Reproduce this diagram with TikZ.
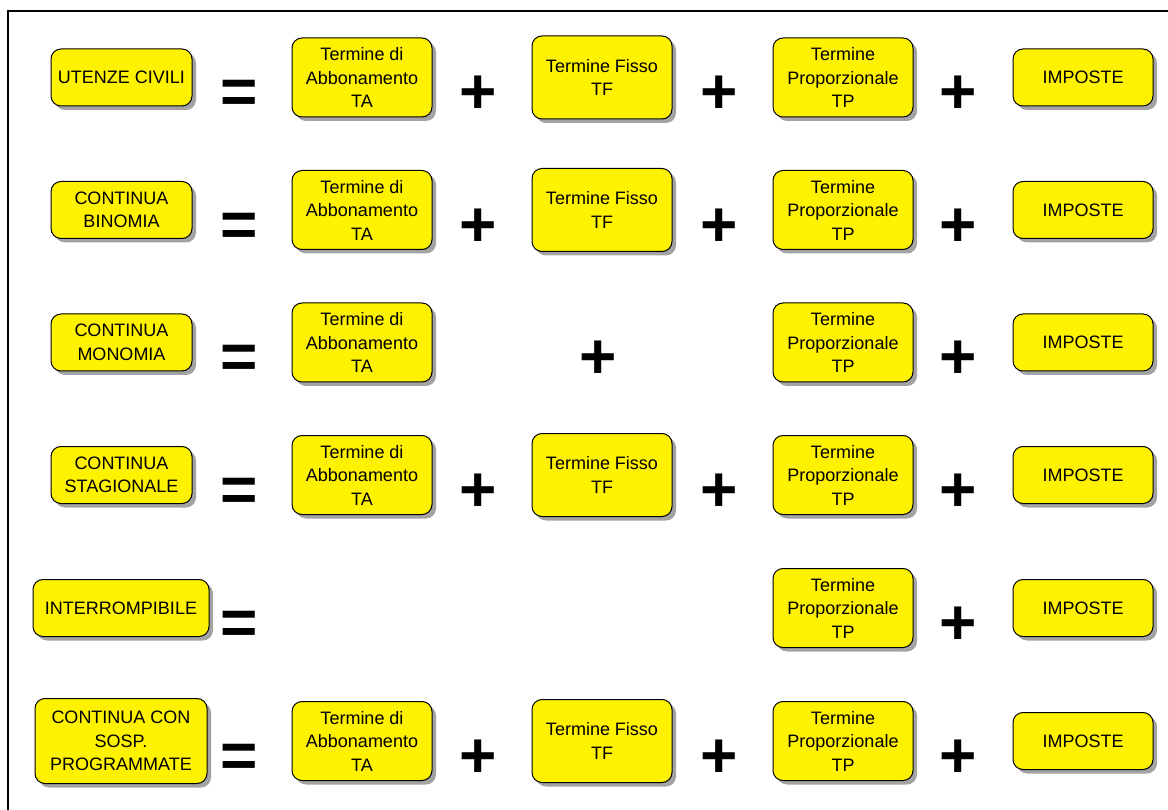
\documentclass[tikz,border=0pt]{standalone}
\usepackage{fontspec}
\setmainfont{Liberation Sans}
\usetikzlibrary{shadows}
\tikzset{
  ybox/.style={draw=black, line width=1pt, fill=yellow, rounded corners=10pt,
    align=center, inner sep=0pt, minimum width=140pt, minimum height=79pt,
    font=\fontsize{18}{23.5}\selectfont,
    drop shadow={shadow xshift=4pt, shadow yshift=-4pt, fill=black!45, opacity=0.8}},
  lbox/.style={ybox, minimum width=141pt, minimum height=57pt},
  tfbox/.style={ybox, minimum height=83pt},
  impbox/.style={ybox, minimum height=57pt},
  sign/.style={anchor=base, inner sep=0pt, font=\fontsize{64}{64}\selectfont\bfseries}
}
\begin{document}
\begin{tikzpicture}[x=1pt,y=-1pt]
\useasboundingbox (0,0) rectangle (1168,810);
\draw[line width=1.5pt] (8,900) -- (8,11) -- (1200,11);
% sign baseline offset
\def\so{36.5}
% Row 1
\node[lbox] (l1) at (121.5,77.5) {UTENZE CIVILI};
\node[sign] (e1) at (239,77.5+\so) {=};
\node[ybox] (ta1) at (362,77.5) {Termine di\\Abbonamento\\TA};
\node[sign] (pa1) at (478,77.5+\so) {+};
\node[tfbox] (tf1) at (602,77.5) {Termine Fisso\\TF};
\node[sign] (pb1) at (719,77.5+\so) {+};
\node[ybox] (tp1) at (843,77.5) {Termine\\Proporzionale\\TP};
\node[sign] (pc1) at (958,77.5+\so) {+};
\node[impbox] (im1) at (1083,77.5) {IMPOSTE};
% Row 2
\node[lbox] (l2) at (121.5,210) {CONTINUA\\BINOMIA};
\node[sign] (e2) at (239,210+\so) {=};
\node[ybox] (ta2) at (362,210) {Termine di\\Abbonamento\\TA};
\node[sign] (pa2) at (478,210+\so) {+};
\node[tfbox] (tf2) at (602,210) {Termine Fisso\\TF};
\node[sign] (pb2) at (719,210+\so) {+};
\node[ybox] (tp2) at (843,210) {Termine\\Proporzionale\\TP};
\node[sign] (pc2) at (958,210+\so) {+};
\node[impbox] (im2) at (1083,210) {IMPOSTE};
% Row 3
\node[lbox] (l3) at (121.5,342.5) {CONTINUA\\MONOMIA};
\node[sign] (e3) at (239,342.5+\so) {=};
\node[ybox] (ta3) at (362,342.5) {Termine di\\Abbonamento\\TA};
\node[sign] (pa3) at (598,342.5+\so) {+};
\node[ybox] (tp3) at (843,342.5) {Termine\\Proporzionale\\TP};
\node[sign] (pc3) at (958,342.5+\so) {+};
\node[impbox] (im3) at (1083,342.5) {IMPOSTE};
% Row 4
\node[lbox] (l4) at (121.5,475) {CONTINUA\\STAGIONALE};
\node[sign] (e4) at (239,475+\so) {=};
\node[ybox] (ta4) at (362,475) {Termine di\\Abbonamento\\TA};
\node[sign] (pa4) at (478,475+\so) {+};
\node[tfbox] (tf4) at (602,475) {Termine Fisso\\TF};
\node[sign] (pb4) at (719,475+\so) {+};
\node[ybox] (tp4) at (843,475) {Termine\\Proporzionale\\TP};
\node[sign] (pc4) at (958,475+\so) {+};
\node[impbox] (im4) at (1083,475) {IMPOSTE};
% Row 5
\node[lbox, minimum width=176pt] (l5) at (121,608) {INTERROMPIBILE};
\node[sign] (e5) at (239,608+\so) {=};
\node[ybox] (tp5) at (843,608) {Termine\\Proporzionale\\TP};
\node[sign] (pc5) at (958,608+\so) {+};
\node[impbox] (im5) at (1083,608) {IMPOSTE};
% Row 6
\node[lbox, minimum width=172pt, minimum height=85pt] (l6) at (121,741) {CONTINUA CON\\SOSP.\\PROGRAMMATE};
\node[sign] (e6) at (239,741+\so) {=};
\node[ybox] (ta6) at (362,741) {Termine di\\Abbonamento\\TA};
\node[sign] (pa6) at (478,741+\so) {+};
\node[tfbox] (tf6) at (602,741) {Termine Fisso\\TF};
\node[sign] (pb6) at (719,741+\so) {+};
\node[ybox] (tp6) at (843,741) {Termine\\Proporzionale\\TP};
\node[sign] (pc6) at (958,741+\so) {+};
\node[impbox] (im6) at (1083,741) {IMPOSTE};
\end{tikzpicture}
\end{document}
